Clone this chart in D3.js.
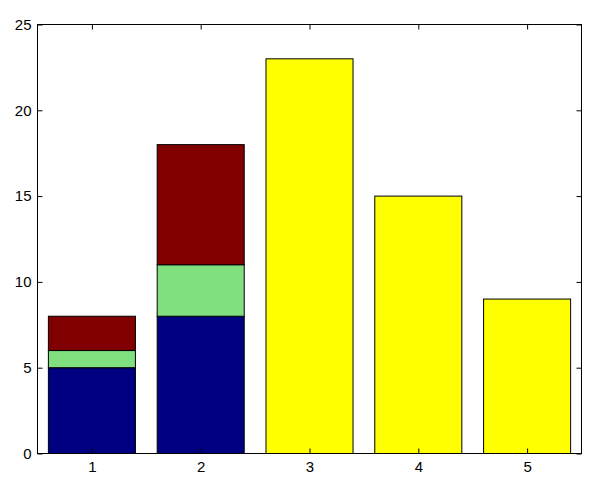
<!DOCTYPE html>
<html><head><meta charset="utf-8">
<script src="https://cdn.jsdelivr.net/npm/d3@7"></script>
<style>body{margin:0;background:#fff}svg{display:block}</style>
</head><body>
<svg id="c" width="601" height="480"></svg>
<script>
const categories = [1, 2, 3, 4, 5];
const seriesA = [5, 8, 23, 15, 9];   // bottom segment
const seriesB = [1, 3, 0, 0, 0];
const seriesC = [2, 7, 0, 0, 0];
const yTicks = [0, 5, 10, 15, 20, 25];

const stackedCats = [1, 2];
const colors = {A: "#000080", B: "#80E080", C: "#800000", single: "#FFFF00"};

const svg = d3.select("#c");
const L = 37.5, R = 581.5, T = 24.5, B = 453.5;
const x = d3.scaleLinear().domain([0.5, 5.5]).range([L, R]);
const y = d3.scaleLinear().domain([0, 25]).range([B, T]);
const bw = 0.8;

const rows = categories.map((c, i) => ({c, a: seriesA[i], b: seriesB[i], cc: seriesC[i]}));
const segs = [];
rows.forEach(r => {
  const stacked = stackedCats.includes(r.c);
  if (stacked) {
    segs.push({c: r.c, y0: 0, y1: r.a, fill: colors.A});
    segs.push({c: r.c, y0: r.a, y1: r.a + r.b, fill: colors.B});
    segs.push({c: r.c, y0: r.a + r.b, y1: r.a + r.b + r.cc, fill: colors.C});
  } else {
    segs.push({c: r.c, y0: 0, y1: r.a, fill: colors.single});
  }
});

svg.append("g").selectAll("rect").data(segs).join("rect")
  .attr("x", d => x(d.c - bw / 2))
  .attr("width", d => x(d.c + bw / 2) - x(d.c - bw / 2))
  .attr("y", d => y(d.y1))
  .attr("height", d => y(d.y0) - y(d.y1))
  .attr("fill", d => d.fill)
  .attr("stroke", "#000").attr("stroke-width", 1);

// frame
svg.append("rect").attr("x", L).attr("y", T).attr("width", R - L).attr("height", B - T)
  .attr("fill", "none").attr("stroke", "#000").attr("stroke-width", 1);

const font = "Liberation Sans, Arial, sans-serif";
const tk = 5;
const xb = svg.append("g").attr("transform", `translate(0,${B})`)
  .call(d3.axisBottom(x).tickValues(categories).tickSize(-tk).tickPadding(8).tickFormat(d3.format("d")));
const xt = svg.append("g").attr("transform", `translate(0,${T})`)
  .call(d3.axisTop(x).tickValues(categories).tickSize(-tk).tickFormat(""));
const yl = svg.append("g").attr("transform", `translate(${L},0)`)
  .call(d3.axisLeft(y).tickValues(yTicks).tickSize(-tk).tickPadding(6).tickFormat(d3.format("d")));
const yr = svg.append("g").attr("transform", `translate(${R},0)`)
  .call(d3.axisRight(y).tickValues(yTicks).tickSize(-tk).tickFormat(""));
[xb, xt, yl, yr].forEach(g => {
  g.select(".domain").remove();
  g.selectAll("line").attr("stroke", "#000");
  g.selectAll("text").attr("font-family", font).attr("font-size", 15).attr("fill", "#000");
});
</script>
</body></html>
